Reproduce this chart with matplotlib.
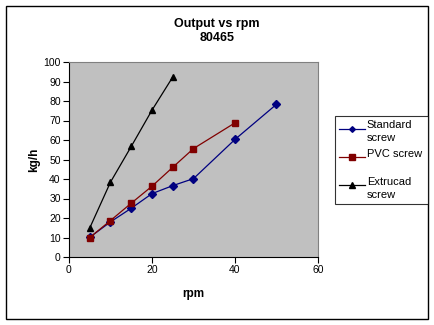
import matplotlib
matplotlib.use("Agg")
import matplotlib.pyplot as plt
from matplotlib.legend_handler import HandlerLine2D
from matplotlib.patches import Rectangle

plt.rcParams['font.family'] = ['Liberation Sans', 'DejaVu Sans']

# output (kg/h) against screw speed (rpm)
rpm_standard = [5, 10, 15, 20, 25, 30, 40, 50]
kgh_standard = [10.1, 18.0, 25.0, 32.5, 36.6, 40.2, 60.3, 78.3]

rpm_pvc = [5, 10, 15, 20, 25, 30, 40]
kgh_pvc = [10.0, 18.7, 27.6, 36.3, 46.0, 55.6, 68.8]

rpm_extrucad = [5, 10, 15, 20, 25]
kgh_extrucad = [14.9, 38.4, 56.7, 75.3, 92.3]

labels = ["Standard\nscrew", "PVC screw\n ", "Extrucad\nscrew"]


class FirstLineHandler(HandlerLine2D):
    # put the legend marker beside the first line of a two-line label
    def __init__(self, shift=0.6, **kw):
        super().__init__(**kw)
        self.shift = shift

    def create_artists(self, legend, orig_handle, xdescent, ydescent,
                       width, height, fontsize, trans):
        return super().create_artists(legend, orig_handle, xdescent,
                                      ydescent - self.shift * fontsize,
                                      width, height, fontsize, trans)


W, H = 435, 325
fig = plt.figure(figsize=(W / 100, H / 100), dpi=100)
ax = fig.add_axes([69 / W, 1 - 257 / H, (318 - 69) / W, (257 - 62) / H])
ax.set_facecolor('#c0c0c0')

l1, = ax.plot(rpm_standard, kgh_standard, color='#000080', lw=0.9,
              marker='D', ms=3.6, label=labels[0])
l2, = ax.plot(rpm_pvc, kgh_pvc, color='#800000', lw=0.9,
              marker='s', ms=4.6, label=labels[1])
l3, = ax.plot(rpm_extrucad, kgh_extrucad, color='black', lw=0.9,
              marker='^', ms=5, label=labels[2])

ax.set_xlim(0, 60)
ax.set_ylim(0, 100)
ax.set_xticks(range(0, 61, 20))
ax.set_yticks(range(0, 101, 10))
ax.tick_params(direction='out', length=4, width=0.8, labelsize=7.5, pad=2)
for side in ['top', 'right']:
    ax.spines[side].set_color('#808080')
for side in ['left', 'bottom']:
    ax.spines[side].set_color('black')
for sp in ax.spines.values():
    sp.set_linewidth(0.8)

ax.set_xlabel('rpm', fontsize=8.5, fontweight='bold')
ax.xaxis.set_label_coords(0.5, -0.16)
ax.set_ylabel('kg/h', fontsize=8.5, fontweight='bold')
ax.yaxis.set_label_coords(-0.115, 0.5)

fig.text(217 / W, 1 - 31 / H, 'Output vs rpm\n80465', ha='center', va='center',
         fontsize=9, fontweight='bold', linespacing=1.3)

hmap = {h: FirstLineHandler(shift=0.62) for h in (l1, l2, l3)}
leg = fig.legend(handles=[l1, l2, l3], loc='upper left',
                 bbox_to_anchor=(335 / W, 1 - 116 / H, (428 - 335) / W, 0.0),
                 mode='expand', fontsize=8, frameon=True, fancybox=False,
                 edgecolor='black', handlelength=2.3, handletextpad=0.15,
                 labelspacing=0.5, borderpad=0.4, borderaxespad=0,
                 markerscale=0.8, handler_map=hmap)
leg.get_frame().set_linewidth(0.8)
for t in leg.get_texts():
    t.set_linespacing(1.35)

fig.patches.append(Rectangle((6 / W, 1 - 319 / H), (428 - 6) / W, (319 - 6) / H,
                             transform=fig.transFigure, fill=False,
                             edgecolor='black', lw=1.0))

fig.savefig('out.png', dpi=100)
